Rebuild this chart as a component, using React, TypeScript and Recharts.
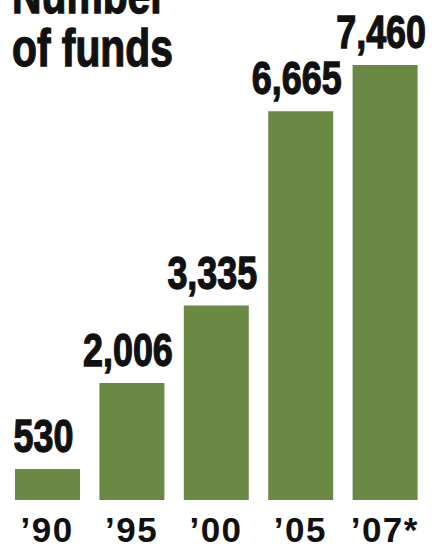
import React from "react"
import { BarChart, Bar, XAxis, YAxis, LabelList } from "recharts"

// Number of funds, by year
const years = ["\u201990", "\u201995", "\u201900", "\u201905", "\u201907*"]
const funds = [530, 2006, 3335, 6665, 7460]
const titleLines = ["Number", "of funds"]

const data = years.map((year, i) => ({ year, funds: funds[i] }))

const GREEN = "#6a8945"
const FONT = "'Liberation Sans', Arial, sans-serif"

const YearTick = (props: any) => {
  const { x, y, payload } = props
  return (
    <text
      x={x}
      y={y + 34}
      textAnchor="middle"
      fontFamily={FONT}
      fontWeight={700}
      fontSize={35}
      letterSpacing={1.5}
      fill="#111"
    >
      {payload.value}
    </text>
  )
}

// condensed heavy value label above each bar
const ValueLabel = (props: any) => {
  const { x, y, width, value } = props
  const cx = x + width / 2 - 4
  return (
    <g transform={`translate(${cx},${y - 17}) scale(0.78,1)`}>
      <text
        x={0}
        y={0}
        textAnchor="middle"
        fontFamily={FONT}
        fontWeight={700}
        fontSize={46}
        fill="#111"
        stroke="#111"
        strokeWidth={1.3}
      >
        {Number(value).toLocaleString("en-US")}
      </text>
    </g>
  )
}

const App: React.FC = () => {
  return (
    <div style={{ position: "fixed", top: 0, left: 0, width: 436, height: 549, background: "#fff", overflow: "hidden" }}>
      <div
        style={{
          position: "absolute",
          left: 12,
          top: -31,
          fontFamily: FONT,
          fontWeight: 700,
          fontSize: 51,
          lineHeight: "53px",
          color: "#111",
          WebkitTextStroke: "1.3px #111",
          transform: "scaleX(0.8)",
          transformOrigin: "left top",
          whiteSpace: "nowrap",
        }}
      >
        {titleLines.map((line) => (
          <div key={line}>{line}</div>
        ))}
      </div>
      <BarChart
        width={436}
        height={549}
        data={data}
        margin={{ top: 65, right: 9, bottom: 9, left: 5 }}
      >
        <XAxis
          dataKey="year"
          axisLine={false}
          tickLine={false}
          height={40}
          interval={0}
          tick={<YearTick />}
        />
        <YAxis hide domain={[0, 7460]} />
        <Bar dataKey="funds" fill={GREEN} barSize={65} isAnimationActive={false}>
          <LabelList dataKey="funds" content={<ValueLabel />} />
        </Bar>
      </BarChart>
    </div>
  )
}

export default App
